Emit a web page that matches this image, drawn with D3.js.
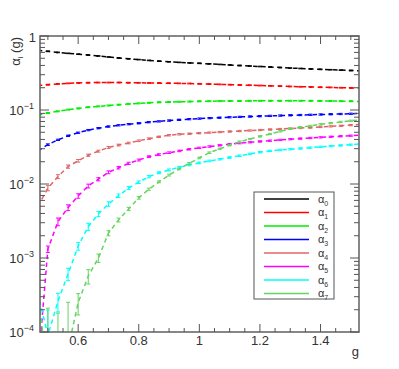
<!DOCTYPE html>
<html><head><meta charset="utf-8">
<script src="https://cdn.jsdelivr.net/npm/d3@7"></script>
<style>body{margin:0;background:#fff}</style>
</head><body><svg id="c" width="399" height="369"></svg>
<script>
// coupling values g
const gVals = [0.4667,0.5,0.5333,0.5667,0.6,0.6333,0.6667,0.7,0.7333,0.7667,0.8,0.8333,0.8667,0.9,0.9333,0.9667,1.0,
  1.0333,1.0667,1.1,1.1333,1.1667,1.2,1.2333,1.2667,1.3,1.3333,1.3667,1.4,1.4333,1.4667,1.5,1.5333];

const alpha0 = [0.640,0.620,0.600,0.583,0.568,0.552,0.537,0.520,0.505,0.492,0.480,0.468,0.457,0.448,0.440,0.433,0.427,
  0.420,0.413,0.406,0.399,0.393,0.387,0.381,0.375,0.369,0.364,0.359,0.354,0.350,0.346,0.342,0.338];
const alpha1 = [0.214,0.220,0.225,0.229,0.232,0.234,0.235,0.235,0.235,0.234,0.233,0.232,0.231,0.230,0.229,0.228,0.226,
  0.224,0.222,0.220,0.218,0.216,0.214,0.212,0.210,0.208,0.206,0.205,0.203,0.202,0.200,0.199,0.198];
const alpha2 = [0.085,0.091,0.096,0.101,0.105,0.109,0.112,0.115,0.118,0.121,0.123,0.125,0.127,0.128,0.129,0.130,0.131,
  0.1315,0.132,0.1323,0.1326,0.1328,0.133,0.1332,0.1333,0.1333,0.1332,0.1330,0.1327,0.1323,0.1318,0.1312,0.1305];
const alpha3 = [0.0280,0.0340,0.0395,0.0448,0.0493,0.0535,0.0568,0.0598,0.0622,0.0643,0.0662,0.0685,0.0702,0.0720,0.0737,0.0752,0.0765,
  0.0777,0.0788,0.0798,0.0807,0.0816,0.0825,0.0833,0.0841,0.0848,0.0855,0.0862,0.0869,0.0876,0.0883,0.0890,0.0896];
const alpha4 = [0.0050,0.0088,0.0126,0.0172,0.0206,0.0245,0.0278,0.0312,0.0336,0.0358,0.0384,0.0410,0.0434,0.0456,0.0470,0.0478,0.0486,
  0.0495,0.0503,0.0512,0.0520,0.0528,0.0536,0.0545,0.0553,0.0562,0.0571,0.0580,0.0590,0.0601,0.0612,0.0625,0.0638];
const alpha5 = [0.00003,0.00132,0.0031,0.0048,0.0069,0.0094,0.0116,0.0144,0.0166,0.0190,0.0211,0.0234,0.0250,0.0265,0.0280,0.0295,0.0308,
  0.0321,0.0333,0.0345,0.0356,0.0366,0.0376,0.0385,0.0394,0.0403,0.0411,0.0419,0.0427,0.0435,0.0442,0.0450,0.0457];
const alpha6 = [0.00034,0.00009,0.00026,0.00061,0.00145,0.00265,0.00394,0.00537,0.00695,0.00883,0.01057,0.01256,0.0142,0.0155,0.0168,0.0181,0.0193,
  0.0205,0.0216,0.0228,0.0241,0.0255,0.0269,0.0280,0.0288,0.0295,0.0302,0.0310,0.0318,0.0325,0.0332,0.0340,0.0348];
const alpha7 = [0.00032,0.00003,0.00003,0.00006,0.00025,0.00057,0.00100,0.00217,0.00327,0.0046,0.0065,0.0085,0.0107,0.0132,0.0160,0.0190,0.0225,
  0.0265,0.0298,0.0335,0.0373,0.0405,0.0440,0.0474,0.0515,0.0555,0.0585,0.0610,0.0640,0.0665,0.0690,0.0715,0.0738];

// relative errors
const err0 = [0.01,0.01,0.01,0.01,0.01,0.01,0.01,0.01,0.01,0.01,0.01,0.01,0.01,0.01,0.01,0.01,0.01,
  0.01,0.01,0.01,0.01,0.01,0.01,0.01,0.01,0.01,0.01,0.01,0.01,0.01,0.01,0.01,0.01];
const err1 = [0.012,0.012,0.012,0.012,0.012,0.012,0.012,0.012,0.012,0.012,0.012,0.012,0.012,0.012,0.012,0.012,0.012,
  0.012,0.012,0.012,0.012,0.012,0.012,0.012,0.012,0.012,0.012,0.012,0.012,0.012,0.012,0.012,0.012];
const err2 = [0.015,0.015,0.015,0.015,0.015,0.015,0.015,0.015,0.015,0.015,0.015,0.015,0.015,0.015,0.015,0.015,0.015,
  0.015,0.015,0.015,0.015,0.015,0.015,0.015,0.015,0.015,0.015,0.015,0.015,0.015,0.015,0.015,0.015];
const err3 = [0.03,0.025,0.02,0.02,0.02,0.02,0.02,0.02,0.02,0.02,0.02,0.02,0.02,0.02,0.02,0.02,0.02,
  0.02,0.02,0.02,0.02,0.02,0.02,0.02,0.02,0.02,0.02,0.02,0.02,0.02,0.02,0.02,0.02];
const err4 = [0.15,0.08,0.06,0.05,0.04,0.035,0.03,0.03,0.028,0.026,0.025,0.024,0.023,0.022,0.022,0.021,0.021,
  0.02,0.02,0.02,0.02,0.02,0.02,0.02,0.02,0.02,0.02,0.02,0.02,0.02,0.02,0.02,0.02];
const err5 = [3.0,0.10,0.12,0.09,0.07,0.06,0.05,0.045,0.04,0.035,0.03,0.028,0.026,0.025,0.024,0.023,0.022,
  0.022,0.021,0.021,0.02,0.02,0.02,0.02,0.02,0.02,0.02,0.02,0.02,0.02,0.02,0.02,0.02];
const err6 = [0.30,1.20,0.28,0.19,0.12,0.11,0.08,0.07,0.055,0.045,0.04,0.035,0.03,0.03,0.028,0.027,0.026,
  0.025,0.024,0.024,0.023,0.022,0.022,0.021,0.021,0.02,0.02,0.02,0.02,0.02,0.02,0.02,0.02];
const err7 = [0.30,6.0,5.0,3.2,0.32,0.22,0.13,0.08,0.06,0.05,0.04,0.035,0.03,0.028,0.027,0.026,0.025,
  0.024,0.023,0.022,0.022,0.021,0.021,0.02,0.02,0.02,0.02,0.02,0.02,0.02,0.02,0.02,0.02];

const seriesNames = ["0","1","2","3","4","5","6","7"];
const seriesColors = ["#000000","#ff0000","#00ee00","#0000ff","#e06666","#ff00ff","#00ffff","#66d460"];
const seriesValues = [alpha0,alpha1,alpha2,alpha3,alpha4,alpha5,alpha6,alpha7];
const seriesErrors = [err0,err1,err2,err3,err4,err5,err6,err7];

const xMajor = [0.6,0.8,1.0,1.2,1.4];
const xMajorLabels = ["0.6","0.8","1","1.2","1.4"];
const xMinor = [0.5,0.55,0.65,0.7,0.75,0.85,0.9,0.95,1.05,1.1,1.15,1.25,1.3,1.35,1.45,1.5];
const yDecades = [1e-4,1e-3,1e-2,1e-1,1];
const yDecadeExp = ["-4","-3","-2","-1","0"];

const L = 40, R = 359, T = 36, B = 332;
const svg = d3.select("#c");
const x = d3.scaleLinear().domain([0.474,1.527]).range([L,R]);
const y = d3.scaleLog().domain([1e-4,1]).range([B,T]);

svg.append("defs").append("clipPath").attr("id","clip")
  .append("rect").attr("x",L).attr("y",T).attr("width",R-L).attr("height",B-T);

const font = "'Liberation Sans', Arial, Helvetica, sans-serif";
const plot = svg.append("g").attr("clip-path","url(#clip)");

const line = d3.line().x((d,i)=>x(gVals[i])).y(d=>y(d));

seriesValues.forEach((vals,si)=>{
  const col = seriesColors[si];
  plot.append("path").datum(vals).attr("d",line)
    .attr("fill","none").attr("stroke",col).attr("stroke-width",1.5)
    .attr("stroke-dasharray","4.5,3.5");
  const eb = plot.append("g").attr("stroke",col).attr("stroke-width",1);
  vals.forEach((v,i)=>{
    const e = v*seriesErrors[si][i];
    const xi = x(gVals[i]);
    const yTop = y(v+e);
    const lo = v-e;
    const yBot = lo>0 ? y(lo) : B+20;
    eb.append("line").attr("x1",xi).attr("x2",xi).attr("y1",yTop).attr("y2",yBot);
    eb.append("line").attr("x1",xi-2).attr("x2",xi+2).attr("y1",yTop).attr("y2",yTop);
    if(lo>0) eb.append("line").attr("x1",xi-2).attr("x2",xi+2).attr("y1",yBot).attr("y2",yBot);
  });
});

// frame
const ax = svg.append("g").attr("stroke","#555").attr("stroke-width",1);
ax.append("rect").attr("x",L).attr("y",T).attr("width",R-L).attr("height",B-T)
  .attr("fill","none").attr("stroke","#6a6a6a").attr("stroke-width",1.6);

// x ticks
xMajor.forEach(v=>{
  ax.append("line").attr("x1",x(v)).attr("x2",x(v)).attr("y1",B).attr("y2",B-8);
  ax.append("line").attr("x1",x(v)).attr("x2",x(v)).attr("y1",T).attr("y2",T+8);
});
xMinor.forEach(v=>{
  ax.append("line").attr("x1",x(v)).attr("x2",x(v)).attr("y1",B).attr("y2",B-4);
  ax.append("line").attr("x1",x(v)).attr("x2",x(v)).attr("y1",T).attr("y2",T+4);
});
svg.append("g").selectAll("text").data(xMajor).join("text")
  .attr("x",d=>x(d)).attr("y",B+13).attr("text-anchor","middle")
  .attr("font-family",font).attr("font-size",13).attr("fill","#333")
  .text((d,i)=>xMajorLabels[i]);

// y ticks
yDecades.forEach((d,k)=>{
  ax.append("line").attr("x1",L).attr("x2",L+9).attr("y1",y(d)).attr("y2",y(d));
  ax.append("line").attr("x1",R).attr("x2",R-9).attr("y1",y(d)).attr("y2",y(d));
  if(k<yDecades.length-1){
    for(let m=2;m<=9;m++){
      const yy = y(d*m);
      ax.append("line").attr("x1",L).attr("x2",L+5).attr("y1",yy).attr("y2",yy);
      ax.append("line").attr("x1",R).attr("x2",R-5).attr("y1",yy).attr("y2",yy);
    }
  }
});
yDecades.forEach((d,k)=>{
  const t = svg.append("text").attr("font-family",font).attr("font-size",13).attr("fill","#333")
    .attr("text-anchor","end").attr("x",34).attr("y",y(d)+5);
  if(yDecadeExp[k]==="0"){
    t.attr("x",36).attr("y",y(d)+6).text("1");
  } else {
    t.append("tspan").text("10");
    t.append("tspan").attr("font-size",9).attr("dy",-6).text("\u2212"+yDecadeExp[k].slice(1));
  }
});

// axis titles
svg.append("text").attr("x",R).attr("y",356).attr("text-anchor","end")
  .attr("font-family",font).attr("font-size",13).attr("fill","#333").text("g");
const yt = svg.append("text").attr("transform","translate(20,37) rotate(-90)")
  .attr("text-anchor","end").attr("font-family",font).attr("font-size",13).attr("fill","#333");
yt.append("tspan").text("\u03b1");
yt.append("tspan").attr("font-size",8).attr("dy",3).text("i");
yt.append("tspan").attr("dy",-3).text(" (g)");

// legend
const lg = svg.append("g");
lg.append("rect").attr("x",254).attr("y",192).attr("width",80).attr("height",107)
  .attr("fill","#fff").attr("stroke","#555").attr("stroke-width",1);
seriesNames.forEach((n,i)=>{
  const yy = 199 + i*13.5;
  lg.append("line").attr("x1",264).attr("x2",309).attr("y1",yy).attr("y2",yy)
    .attr("stroke",seriesColors[i]).attr("stroke-width",1.5);
  const t = lg.append("text").attr("x",318).attr("y",yy+3.5)
    .attr("font-family",font).attr("font-size",11).attr("fill","#333");
  t.append("tspan").text("\u03b1");
  t.append("tspan").attr("font-size",7).attr("dy",3).text(n);
});
</script></body></html>
